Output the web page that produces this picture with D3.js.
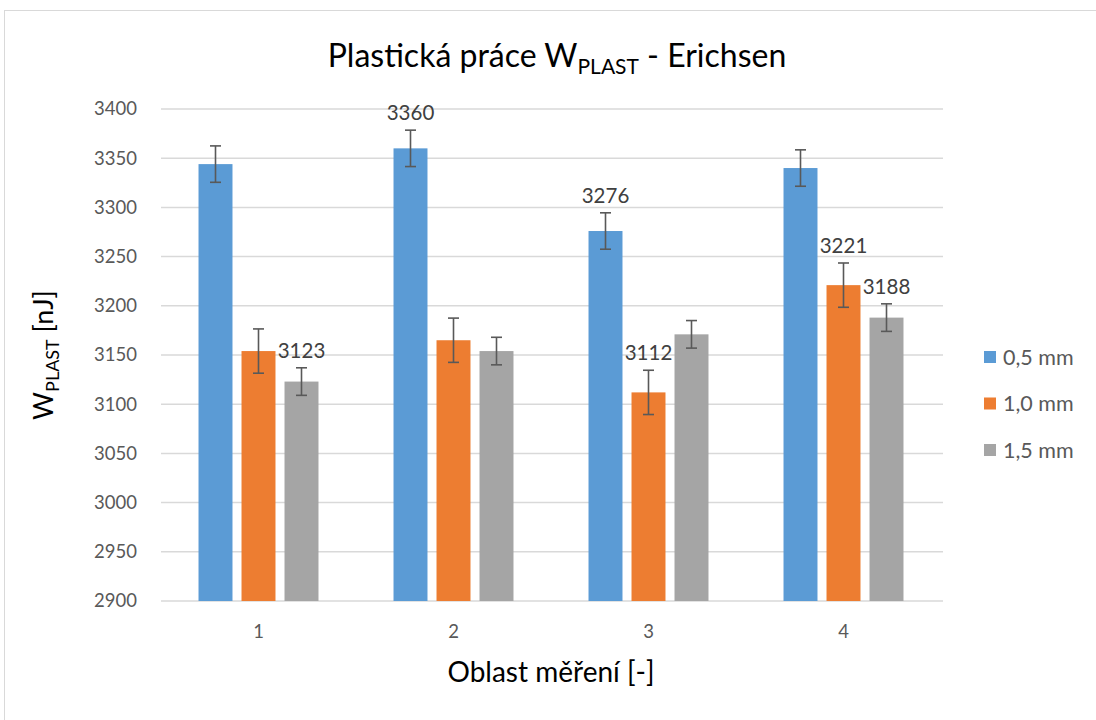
<!DOCTYPE html>
<html>
<head>
<meta charset="utf-8">
<script src="https://cdn.jsdelivr.net/npm/d3@7"></script>
<style>
  body { margin: 0; background: #fff; }
  svg { font-family: Lato, 'Open Sans', sans-serif; }
</style>
</head>
<body>
<svg width="1096" height="720"></svg>
<script>
const categories = ['1', '2', '3', '4'];
const seriesNames = ['0,5 mm', '1,0 mm', '1,5 mm'];
const seriesColors = ['#5B9BD5', '#ED7D31', '#A5A5A5'];
const values05 = [3344, 3360, 3276, 3340];
const values10 = [3154, 3165, 3112, 3221];
const values15 = [3123, 3154, 3171, 3188];
const errors = [18.5, 22.5, 14]; // per series
const yTicks = [2900, 2950, 3000, 3050, 3100, 3150, 3200, 3250, 3300, 3350, 3400];
// which bars carry a data label: [series, category]
const labelled = [[2, 0], [0, 1], [0, 2], [1, 2], [1, 3], [2, 3]];

const seriesValues = [values05, values10, values15];

const svg = d3.select('svg');

svg.append('rect')
  .attr('x', 4.5).attr('y', 10.5)
  .attr('width', 1200).attr('height', 800)
  .attr('fill', '#fff')
  .attr('stroke', '#d9d9d9');

const plot = {left: 161, right: 941, top: 109, bottom: 601};

const x = d3.scaleBand()
  .domain(categories)
  .range([plot.left, plot.right]);

const xInner = d3.scaleBand()
  .domain(d3.range(seriesNames.length))
  .range([x.bandwidth() / 2 - 64.5, x.bandwidth() / 2 + 64.5])
  .paddingInner(0.21)
  .paddingOuter(0.105);

const y = d3.scaleLinear()
  .domain([2900, 3400])
  .range([plot.bottom, plot.top]);

// gridlines
svg.append('g')
  .selectAll('line')
  .data(yTicks)
  .enter()
  .append('line')
  .attr('x1', plot.left)
  .attr('x2', plot.right + 2)
  .attr('y1', d => y(d))
  .attr('y2', d => y(d))
  .attr('stroke', '#d9d9d9')
  .attr('stroke-width', 1.5);

// y tick labels
svg.append('g')
  .selectAll('text')
  .data(yTicks)
  .enter()
  .append('text')
  .attr('x', 137)
  .attr('y', d => y(d))
  .attr('dy', '0.35em')
  .attr('text-anchor', 'end')
  .attr('font-size', 18.5)
  .attr('fill', '#595959')
  .text(d => d);

// x tick labels
svg.append('g')
  .selectAll('text')
  .data(categories)
  .enter()
  .append('text')
  .attr('x', d => x(d) + x.bandwidth() / 2)
  .attr('y', 632)
  .attr('dy', '0.35em')
  .attr('text-anchor', 'middle')
  .attr('font-size', 18.5)
  .attr('fill', '#595959')
  .text(d => d);

// bars
const barData = [];
seriesValues.forEach((vals, si) => {
  vals.forEach((v, ci) => barData.push({si, ci, v, err: errors[si]}));
});

svg.append('g')
  .selectAll('rect')
  .data(barData)
  .enter()
  .append('rect')
  .attr('x', d => x(categories[d.ci]) + xInner(d.si))
  .attr('width', xInner.bandwidth())
  .attr('y', d => y(d.v))
  .attr('height', d => y(2900) - y(d.v))
  .attr('fill', d => seriesColors[d.si]);

// error bars
const eb = svg.append('g')
  .attr('stroke', '#595959')
  .attr('stroke-width', 1.6)
  .selectAll('g')
  .data(barData)
  .enter()
  .append('g')
  .attr('transform', d => `translate(${x(categories[d.ci]) + xInner(d.si) + xInner.bandwidth() / 2},0)`);

eb.append('line')
  .attr('y1', d => y(d.v + d.err))
  .attr('y2', d => y(d.v - d.err));
eb.append('line')
  .attr('x1', -5.5).attr('x2', 5.5)
  .attr('y1', d => y(d.v + d.err))
  .attr('y2', d => y(d.v + d.err));
eb.append('line')
  .attr('x1', -5.5).attr('x2', 5.5)
  .attr('y1', d => y(d.v - d.err))
  .attr('y2', d => y(d.v - d.err));

// data labels
svg.append('g')
  .selectAll('text')
  .data(labelled.map(([si, ci]) => barData.find(b => b.si === si && b.ci === ci)))
  .enter()
  .append('text')
  .attr('x', d => x(categories[d.ci]) + xInner(d.si) + xInner.bandwidth() / 2)
  .attr('y', d => y(d.v + d.err) - 17)
  .attr('dy', '0.35em')
  .attr('text-anchor', 'middle')
  .attr('font-size', 20.5)
  .attr('fill', '#404040')
  .text(d => d.v);

// title
const title = svg.append('text')
  .attr('x', 557)
  .attr('y', 67)
  .attr('text-anchor', 'middle')
  .attr('font-size', 32)
  .attr('fill', '#000');
title.append('tspan').text('Plastická práce W');
title.append('tspan').attr('font-size', 21).attr('dy', 7).text('PLAST');
title.append('tspan').attr('dy', -7).text(' - Erichsen');

// y axis title
const yTitle = svg.append('text')
  .attr('transform', 'translate(53,355) rotate(-90)')
  .attr('text-anchor', 'middle')
  .attr('font-size', 27)
  .attr('fill', '#000');
yTitle.append('tspan').text('W');
yTitle.append('tspan').attr('font-size', 18).attr('dy', 6).text('PLAST');
yTitle.append('tspan').attr('dy', -6).text(' [nJ]');

// x axis title
svg.append('text')
  .attr('x', 551)
  .attr('y', 672)
  .attr('dy', '0.35em')
  .attr('text-anchor', 'middle')
  .attr('font-size', 28)
  .attr('fill', '#000')
  .text('Oblast měření [-]');

// legend
const legend = svg.append('g')
  .selectAll('g')
  .data(seriesNames)
  .enter()
  .append('g')
  .attr('transform', (d, i) => `translate(984,${357 + i * 46.5})`);

legend.append('rect')
  .attr('x', 0).attr('y', -6)
  .attr('width', 12).attr('height', 12)
  .attr('fill', (d, i) => seriesColors[i]);

legend.append('text')
  .attr('x', 19)
  .attr('dy', '0.35em')
  .attr('font-size', 21.5)
  .attr('fill', '#595959')
  .text(d => d);
</script>
</body>
</html>
